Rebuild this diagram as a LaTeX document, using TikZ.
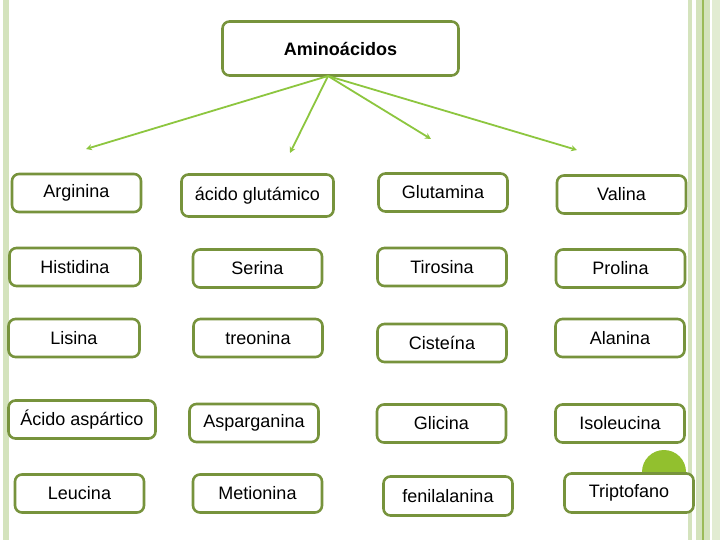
\documentclass[tikz,border=0pt]{standalone}
\usepackage{fontspec}
\setmainfont{Liberation Sans}
\usetikzlibrary{arrows.meta}
\definecolor{olive}{HTML}{77933C}
\definecolor{arrowgreen}{HTML}{8DC63F}
\definecolor{stripe}{HTML}{D4E3BD}
\definecolor{stripedark}{HTML}{9BBB59}
\definecolor{stripelight}{HTML}{E2ECD2}
\definecolor{dotgreen}{HTML}{92C02E}
\tikzset{
  box/.style={draw=olive, line width=2.6pt, rounded corners=7pt, fill=white,
    font=\fontsize{18}{21}\selectfont, inner sep=0pt, minimum width=129pt, minimum height=38pt},
  link/.style={draw=arrowgreen, line width=1.8pt, -{Stealth[length=6pt,width=6pt]}}
}
\begin{document}
\begin{tikzpicture}[x=1pt,y=-1pt]
\useasboundingbox (0,0) rectangle (720,540);
\fill[white] (0,0) rectangle (720,540);
% background stripes
\fill[stripe] (3,0) rectangle (8.5,540);
\fill[stripe] (688,0) rectangle (692,540);
\fill[stripe] (695.5,0) rectangle (702,540);
\fill[stripedark] (702,0) rectangle (703.5,540);
\fill[stripe] (703.5,0) rectangle (710,540);
\fill[stripelight] (711.5,0) rectangle (720,540);
% decorative dot
\fill[dotgreen] (664,472) circle (22);
% top node
\node[box, minimum width=236pt, minimum height=54pt, font=\bfseries\fontsize{18}{21}\selectfont] (top) at (340.5,48.5) {Aminoácidos};
% row 1
\node[box] (arg) at (76.5,193) {Arginina};
\node[box, minimum width=152pt, minimum height=42pt] (glu) at (257.5,195.5) {ácido glutámico};
\node[box] (gln) at (443,192.5) {Glutamina};
\node[box] (val) at (621.5,194.5) {Valina};
% row 2
\node[box, minimum width=131pt] (his) at (75,267) {Histidina};
\node[box] (ser) at (257.5,268.5) {Serina};
\node[box] (tyr) at (442,267) {Tirosina};
\node[box] (pro) at (620.5,268.5) {Prolina};
% row 3
\node[box, minimum width=131pt] (lys) at (74,338) {Lisina};
\node[box] (thr) at (258,338) {treonina};
\node[box] (cys) at (442,343) {Cisteína};
\node[box] (ala) at (620,338) {Alanina};
% row 4
\node[box, minimum width=147pt] (asp) at (82,419.5) {Ácido aspártico};
\node[box] (asn) at (254,423) {Asparganina};
\node[box] (gly) at (441.5,423.5) {Glicina};
\node[box] (ile) at (620,423.5) {Isoleucina};
% row 5
\node[box] (leu) at (79.5,493.5) {Leucina};
\node[box] (met) at (257.5,493.5) {Metionina};
\node[box, minimum height=39pt] (phe) at (448,496) {fenilalanina};
\node[box, minimum height=39pt] (trp) at (629,493) {Triptofano};
% connectors
\coordinate (src) at (328,76);
\coordinate (e1) at (86,149);
\coordinate (e2) at (290,153);
\coordinate (e3) at (431,139);
\coordinate (e4) at (577,150);
\draw[link] (src) -- (e1);
\draw[link] (src) -- (e2);
\draw[link] (src) -- (e3);
\draw[link] (src) -- (e4);
\end{tikzpicture}
\end{document}
